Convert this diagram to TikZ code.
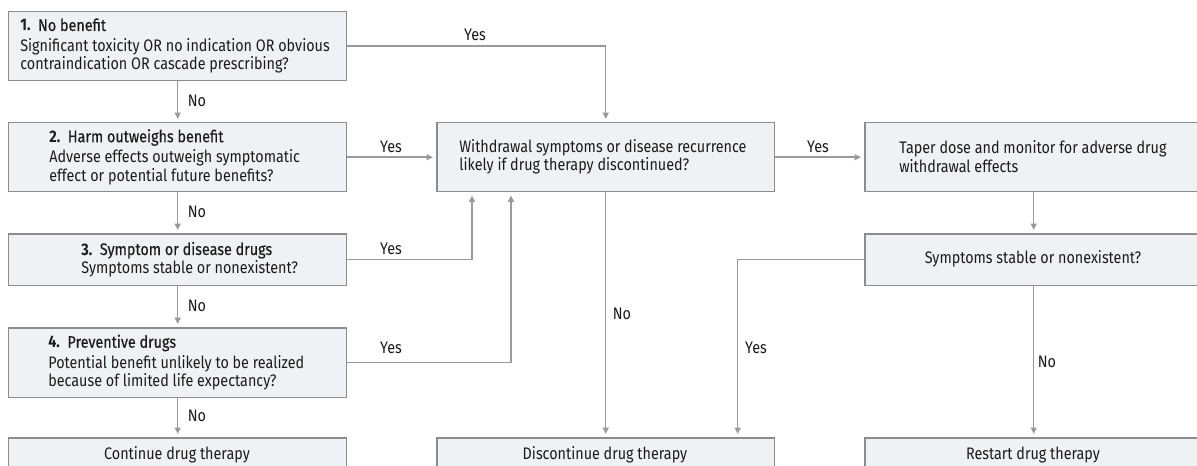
\documentclass[tikz,border=0pt]{standalone}
\usepackage{fontspec}
\setmainfont[FakeStretch=0.86]{Fira Sans}
\newfontfamily\headfont[FakeStretch=0.86,FakeBold=0.35]{Fira Sans}
\usetikzlibrary{arrows.meta,calc}
\definecolor{boxfill}{HTML}{EEF2F5}
\definecolor{boxline}{HTML}{8C8C8C}
\definecolor{arrline}{HTML}{9A9A9A}
\definecolor{txtc}{HTML}{1E1A1B}
\newcommand{\hd}[2]{\textbf{#1}\ \ {\headfont #2}}
\tikzset{
  box/.style={draw=boxline, fill=boxfill, line width=0.03cm, minimum width=6.76cm, inner sep=0pt, anchor=north west},
  txt/.style={text=txtc, font=\fontsize{9.5}{10.5}\selectfont, align=left, inner sep=0pt},
  lbl/.style={text=txtc, font=\fontsize{9.5}{10.5}\selectfont, inner sep=0pt},
  arr/.style={draw=arrline, line width=0.03cm, -{Triangle[length=0.13cm,width=0.12cm]}, shorten >=0.06cm},
}
\begin{document}
\begin{tikzpicture}[x=0.02cm,y=-0.02cm]
\clip (0,0) rectangle (1197,466);
\fill[white] (0,0) rectangle (1197,466);
% boxes
\node[box, minimum height=1.38cm] (b1) at (8,11) {};
\node[box, minimum height=1.38cm] (b2) at (8,122) {};
\node[box, minimum height=1.04cm] (b3) at (8,233) {};
\node[box, minimum height=1.40cm] (b4) at (8,327) {};
\node[box, minimum height=0.90cm] (b5) at (8,437) {};
\node[box, minimum height=1.38cm] (c1) at (436,122) {};
\node[box, minimum height=0.90cm] (c2) at (436,437) {};
\node[box, minimum height=1.38cm] (r1) at (864,122) {};
\node[box, minimum height=1.04cm] (r2) at (864,233) {};
\node[box, minimum height=0.90cm] (r3) at (864,437) {};
% texts
\node[txt, anchor=west] (t1) at (20,46) {\hd{1.}{No benefit}\\[1.2pt]Significant toxicity OR no indication OR obvious\\contraindication OR cascade prescribing?};
\node[txt, anchor=west] (t2) at (49,157) {\hd{2.}{Harm outweighs benefit}\\[1.2pt]Adverse effects outweigh symptomatic\\effect or potential future benefits?};
\node[txt, anchor=west] (t3) at (81,259.5) {\hd{3.}{Symptom or disease drugs}\\Symptoms stable or nonexistent?};
\node[txt, anchor=west] (t4) at (48,362.5) {\hd{4.}{Preventive drugs}\\[1.2pt]Potential benefit unlikely to be realized\\because of limited life expectancy?};
\node[txt] (t5) at (177,455) {Continue drug therapy};
\node[txt, anchor=west] (tc1) at (459,156.5) {Withdrawal symptoms or disease recurrence\\likely if drug therapy discontinued?};
\node[txt] (tc2) at (605,455) {Discontinue drug therapy};
\node[txt, anchor=west] (tr1) at (899,156.5) {Taper dose and monitor for adverse drug\\withdrawal effects};
\node[txt] (tr2) at (1033,259) {Symptoms stable or nonexistent?};
\node[txt] (tr3) at (1033,455) {Restart drug therapy};
% connectors
\draw[arr] (b1.east) -| (c1.north);
\draw[arr] (b1.south) -- (b2.north);
\draw[arr] (b2.south) -- (b3.north);
\draw[arr] (b3.south) -- (b4.north);
\draw[arr] (b4.south) -- (b5.north);
\draw[arr] (b2.east) -- (c1.west);
\draw[arr] (b3.east) -| ([xshift=0.72cm]c1.south west);
\draw[arr] (b4.east) -| ([xshift=1.50cm]c1.south west);
\draw[arr] (c1.south) -- (c2.north);
\draw[arr] (c1.east) -- (r1.west);
\draw[arr] (r1.south) -- (r2.north);
\draw[arr] (r2.west) -| ([xshift=2.64cm]c2.north);
\draw[arr] (r2.south) -- (r3.north);
% labels
\node[lbl] (y1) at (475,35) {Yes};
\node[lbl] (n1) at (197,101) {No};
\node[lbl] (n2) at (197,212) {No};
\node[lbl] (n3) at (197,306) {No};
\node[lbl] (n4) at (197,416) {No};
\node[lbl] (y2) at (391,147) {Yes};
\node[lbl] (y3) at (391,249) {Yes};
\node[lbl] (y4) at (391,348) {Yes};
\node[lbl] (n5) at (622,314) {No};
\node[lbl] (y5) at (818,147) {Yes};
\node[lbl] (y6) at (756,348) {Yes};
\node[lbl] (n6) at (1047,362) {No};
\end{tikzpicture}
\end{document}
